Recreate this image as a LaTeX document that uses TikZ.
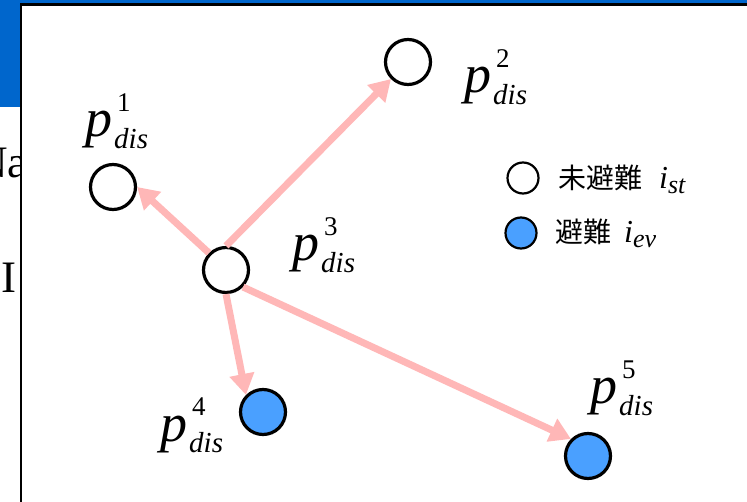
\documentclass[tikz,border=0pt]{standalone}
\usepackage{fontspec}
\setmainfont{Liberation Serif}
\newfontfamily\jpfont{Noto Sans CJK JP}
\usetikzlibrary{arrows.meta}

\definecolor{slideblue}{RGB}{0,102,204}
\definecolor{evblue}{RGB}{74,160,255}
\definecolor{arrpink}{RGB}{255,183,183}

\newcommand{\pdis}[1]{\textit{p}\rlap{\kern5pt\raisebox{25pt}{\fontsize{27}{27}\selectfont #1}}\kern2pt\raisebox{-12pt}{\fontsize{29}{29}\selectfont\itshape dis}}

\begin{document}
\begin{tikzpicture}[x=1pt, y=-1pt,
    stnode/.style={draw, fill=white, circle, line width=3.2pt, inner sep=0pt, minimum size=45pt},
    evnode/.style={draw, fill=evblue, circle, line width=3.2pt, inner sep=0pt, minimum size=45pt},
    lab/.style={anchor=base west, inner sep=0pt, font=\fontsize{54}{54}\selectfont},
    arr/.style={draw=arrpink, line width=7pt, -{Triangle[width=24pt,length=21pt]}}]
    \useasboundingbox (0,0) rectangle (747,502);
    \fill[white] (0,0) rectangle (747,502);
    \fill[slideblue] (0,0) rectangle (747,107);
    \node[anchor=base west, inner sep=0pt, font=\fontsize{45}{45}\selectfont] (na) at (-25,178) {Na};
    \node[anchor=base west, inner sep=0pt, font=\fontsize{45}{45}\selectfont] (in) at (1,293) {I};
    \draw[fill=white, line width=2.5pt] (21,4.5) rectangle (770,530);

    \node[stnode] (p1) at (113,187) {};
    \node[stnode] (p2) at (408,62) {};
    \node[stnode] (p3) at (226,270) {};
    \node[evnode] (p4) at (263,412) {};
    \node[evnode] (p5) at (588,456) {};

    \draw[arr] (p3.135) -- (p1.east);
    \draw[arr] (p3.north) -- (p2.-135);
    \draw[arr] (p3.south) -- (p4.135);
    \draw[arr] (p3.-45) -- (p5.135);

    \node[lab] (l1) at (85,137) {\pdis{1}};
    \node[lab] (l2) at (464,93) {\pdis{2}};
    \node[lab] (l3) at (292,261) {\pdis{3}};
    \node[lab] (l4) at (160,441) {\pdis{4}};
    \node[lab] (l5) at (590,404) {\pdis{5}};

    % legend
    \node[stnode, line width=2.2pt, minimum size=31pt] (lgst) at (523,178) {};
    \node[evnode, line width=2.2pt, minimum size=31pt] (lgev) at (521,233) {};
    \node[anchor=base west, inner sep=0pt] (lgsttext) at (558,189) {{\jpfont\fontsize{28}{28}\selectfont 未避難}\hspace{17pt}{\fontsize{32}{32}\selectfont\itshape i}\raisebox{-5pt}{\fontsize{26}{26}\selectfont\itshape st}};
    \node[anchor=base west, inner sep=0pt] (lgevtext) at (555,243) {{\jpfont\fontsize{28}{28}\selectfont 避難}\hspace{13pt}{\fontsize{32}{32}\selectfont\itshape i}\raisebox{-5pt}{\fontsize{26}{26}\selectfont\itshape ev}};
\end{tikzpicture}
\end{document}
